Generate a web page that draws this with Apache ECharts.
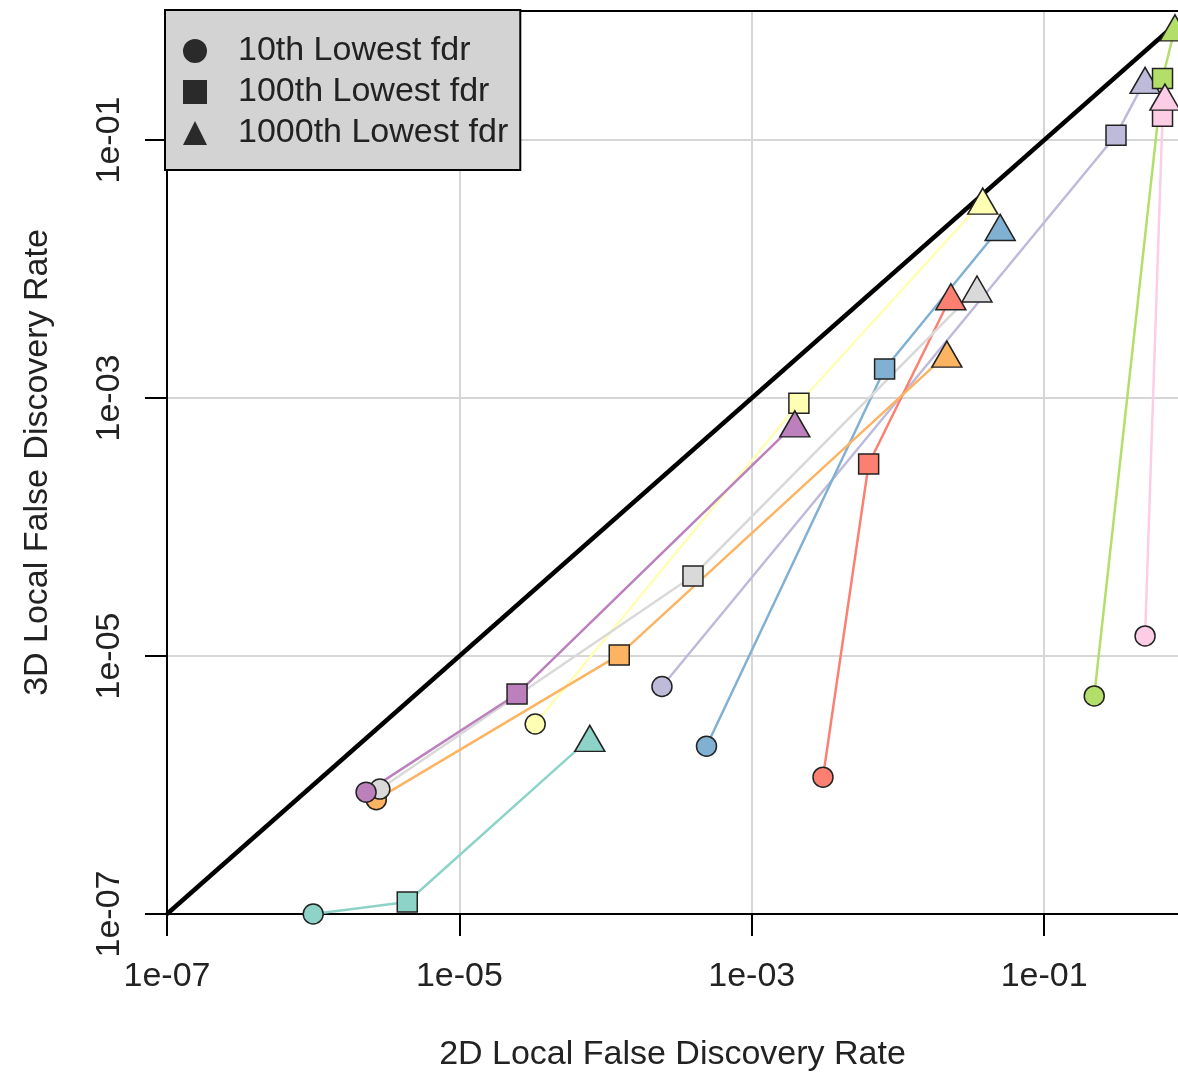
<!DOCTYPE html>
<html>
<head>
<meta charset="utf-8">
<script src="https://cdn.jsdelivr.net/npm/echarts@6/dist/echarts.min.js"></script>
<style>html,body{margin:0;padding:0;background:#fff}#c{width:1178px;height:1073px}</style>
</head>
<body>
<div id="c"></div>
<script>
// Series colours (one per gene set / comparison)
const seriesColors = ['#8DD3C7','#FFFFB3','#BEBADA','#FB8072','#80B1D3','#FDB462','#B3DE69','#FCCDE5','#D9D9D9','#BC80BD'];
// 10th lowest fdr
const fdr2D_10th   = [1.0e-6, 3.3e-5, 2.43e-4, 3.07e-3, 4.9e-4, 2.7e-6, 0.22, 0.49, 2.86e-6, 2.3e-6];
const fdr3D_10th   = [1.0e-7, 2.97e-6, 5.8e-6, 1.15e-6, 2.0e-6, 7.7e-7, 4.9e-6, 1.43e-5, 9.3e-7, 8.8e-7];
// 100th lowest fdr
const fdr2D_100th  = [4.4e-6, 2.1e-3, 0.31, 6.3e-3, 8.1e-3, 1.24e-4, 0.645, 0.645, 3.96e-4, 2.48e-5];
const fdr3D_100th  = [1.24e-7, 9.1e-4, 0.109, 3.08e-4, 1.68e-3, 1.02e-5, 0.30, 0.153, 4.17e-5, 5.07e-6];
// 1000th lowest fdr
const fdr2D_1000th = [7.8e-5, 0.038, 0.49, 0.023, 0.05, 0.0216, 0.785, 0.67, 0.0347, 1.97e-3];
const fdr3D_1000th = [2.3e-6, 0.0336, 0.29, 6.1e-3, 0.021, 2.19e-3, 0.74, 0.215, 7.0e-3, 6.3e-4];
// legend
const legendNames = ['10th Lowest fdr', '100th Lowest fdr', '1000th Lowest fdr'];
const legendIcons = ['circle', 'rect', 'triangle'];
// axes (x range is cut at the right edge of the picture)
const xMin = 1e-7, xMax = 0.823;
const yMin = 1e-7, yMax = 1;
const labelTicks = [1e-7, 1e-5, 1e-3, 1e-1];
const diagonal = [[1e-7, 1e-7], [1, 1]];

const FONT = 'Liberation Sans, Arial, Helvetica, sans-serif';
const fmt = v => { const e = Math.round(Math.log10(v)); return '1e' + (e < 0 ? '-' : '+') + String(Math.abs(e)).padStart(2, '0'); };
const symSize = {circle: 20, rect: 20, triangle: [30, 26]};

const series = [];
series.push({
  type: 'line', data: diagonal, symbol: 'none', silent: true,
  lineStyle: {color: '#000', width: 4.5}, z: 1
});
seriesColors.forEach((c, i) => {
  const pts = [
    [fdr2D_10th[i], fdr3D_10th[i], 'circle'],
    [fdr2D_100th[i], fdr3D_100th[i], 'rect'],
    [fdr2D_1000th[i], fdr3D_1000th[i], 'triangle']
  ];
  series.push({
    type: 'line',
    z: 3,
    lineStyle: {color: c, width: 2.5},
    itemStyle: {color: c, borderColor: '#222', borderWidth: 1.5},
    emphasis: {disabled: true},
    data: pts.map(p => ({value: [p[0], p[1]], symbol: p[2], symbolSize: symSize[p[2]]}))
  });
});
legendNames.forEach((n, i) => {
  series.push({type: 'scatter', name: n, data: [], symbol: legendIcons[i], itemStyle: {color: '#000'}});
});

const axisCommon = {
  type: 'log', logBase: 10, splitNumber: 7,
  axisLine: {show: true, onZero: false, lineStyle: {color: '#000', width: 2}},
  axisTick: {show: true, customValues: labelTicks, length: 22, lineStyle: {color: '#000', width: 2}},
  axisLabel: {customValues: labelTicks, formatter: fmt, fontSize: 34, color: '#222', fontFamily: FONT},
  splitLine: {show: true, lineStyle: {color: '#d6d6d6', width: 2}},
  nameLocation: 'middle',
  nameTextStyle: {fontSize: 34, color: '#222', fontFamily: FONT}
};

const chart = echarts.init(document.getElementById('c'), null, {renderer: 'canvas'});
chart.setOption({
  animation: false,
  backgroundColor: '#fff',
  grid: {left: 167, right: 0, top: 11, bottom: 159, show: false, containLabel: false, outerBoundsMode: 'none'},
  xAxis: [
    Object.assign({}, axisCommon, {
      min: xMin, max: xMax,
      name: '2D Local False Discovery Rate', nameGap: 124,
      axisLabel: Object.assign({}, axisCommon.axisLabel, {margin: 46})
    }),
    {
      type: 'log', logBase: 10, min: xMin, max: xMax, position: 'top',
      axisLine: {show: true, onZero: false, lineStyle: {color: '#000', width: 2}},
      axisTick: {show: false}, axisLabel: {show: false}, splitLine: {show: false}
    }
  ],
  yAxis: Object.assign({}, axisCommon, {
    min: yMin, max: yMax,
    name: '3D Local False Discovery Rate', nameGap: 112,
    axisLabel: Object.assign({}, axisCommon.axisLabel, {rotate: 90, margin: 40})
  }),
  legend: {
    orient: 'vertical', left: 165, top: 10,
    data: legendNames.map((n, i) => ({name: n, icon: legendIcons[i]})),
    itemWidth: 24, itemHeight: 24, itemGap: 7,
    padding: [24, 12, 20, 18],
    backgroundColor: '#d3d3d3', borderColor: '#000', borderWidth: 2, borderRadius: 0,
    textStyle: {fontSize: 34, lineHeight: 34, color: '#222', fontFamily: FONT, padding: [0, 0, 0, 26]},
    selectedMode: false
  },
  series: series
});
</script>
</body>
</html>
